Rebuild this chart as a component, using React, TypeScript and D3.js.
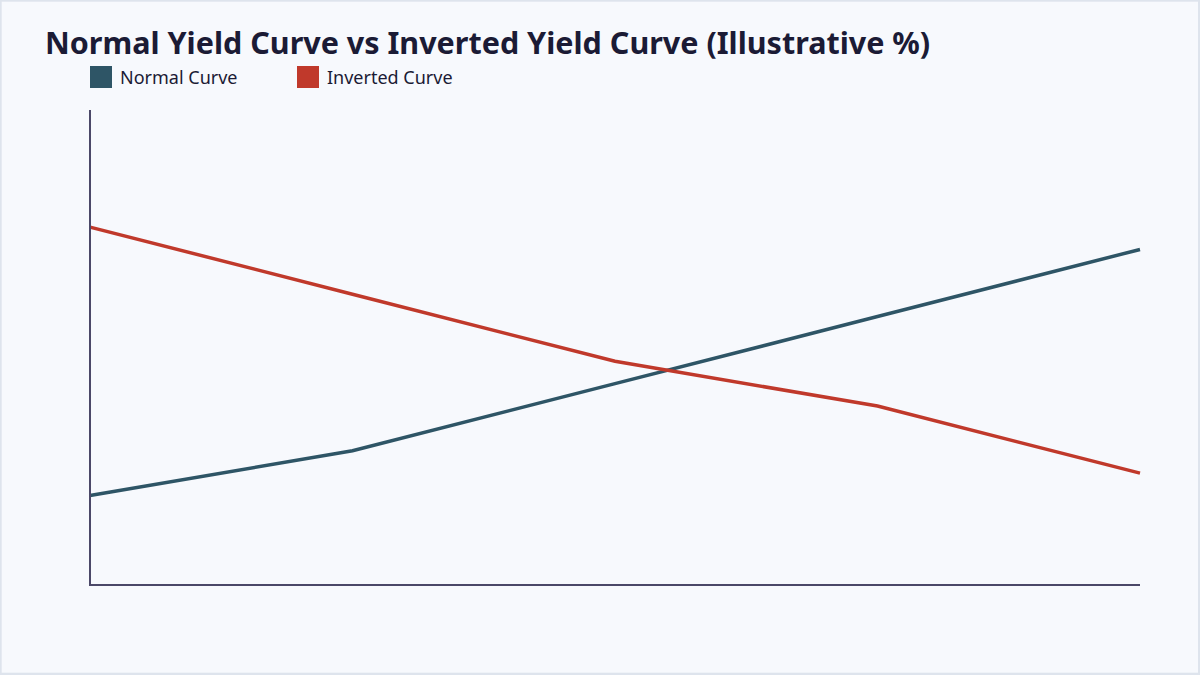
import * as d3 from "d3";
import { useEffect, useRef } from "react";

// maturities along the x axis (no labels are drawn in the reference)
const maturities = ["3M", "2Y", "5Y", "10Y", "30Y"];
const normalCurve = [1.2, 1.8, 2.7, 3.6, 4.5];
const invertedCurve = [4.8, 3.9, 3.0, 2.4, 1.5];
const seriesNames = ["Normal Curve", "Inverted Curve"];
const seriesColors = ["#2e5566", "#c0392b"];

const App = () => {
  const ref = useRef(null);

  useEffect(() => {
    var width = 1200;
    var height = 675;
    var margin = { top: 110, right: 60, bottom: 90, left: 90 };
    var font = "'Noto Sans', sans-serif";

    var svg = d3
      .select(ref.current)
      .append("svg")
      .attr("width", width)
      .attr("height", height)
      .style("display", "block");

    // card background
    svg.append("rect").attr("width", width).attr("height", height).attr("fill", "#dee4ed");
    svg
      .append("rect")
      .attr("x", 1.7)
      .attr("y", 1.7)
      .attr("width", width - 3.7)
      .attr("height", height - 4)
      .attr("fill", "#f7f9fd");

    svg
      .append("text")
      .attr("x", 45)
      .attr("y", 54)
      .attr("font-family", font)
      .attr("font-weight", 700)
      .attr("font-size", 30.5)
      .attr("fill", "#1b1b35")
      .text("Normal Yield Curve vs Inverted Yield Curve (Illustrative %)");

    // legend
    var legendX = [90, 297];
    seriesNames.forEach(function (name, i) {
      var lg = svg.append("g").attr("transform", "translate(" + legendX[i] + ",66)");
      lg.append("rect").attr("width", 22).attr("height", 22).attr("fill", seriesColors[i]);
      lg.append("text")
        .attr("x", 30)
        .attr("y", 17.5)
        .attr("font-family", font)
        .attr("font-size", 18)
        .attr("fill", "#1b1b35")
        .text(name);
    });

    var x = d3
      .scalePoint()
      .domain(maturities)
      .range([margin.left, width - margin.right]);

    var y = d3
      .scaleLinear()
      .domain([0, 6.37])
      .range([height - margin.bottom, margin.top]);

    var line = d3
      .line<number>()
      .x(function (d, i) {
        return x(maturities[i]) as number;
      })
      .y(function (d) {
        return y(d);
      });

    [normalCurve, invertedCurve].forEach(function (values, i) {
      svg
        .append("path")
        .datum(values)
        .attr("d", line)
        .attr("fill", "none")
        .attr("stroke", seriesColors[i])
        .attr("stroke-width", 3.5);
    });

    // axes without ticks
    svg
      .append("path")
      .attr(
        "d",
        "M" + margin.left + "," + margin.top + "V" + y(0) + "H" + (width - margin.right)
      )
      .attr("fill", "none")
      .attr("stroke", "#4b4868")
      .attr("stroke-width", 2);

    return function () {
      svg.remove();
    };
  }, []);

  return (
    <>
      <style>{"body{margin:0}"}</style>
      <div ref={ref} />
    </>
  );
};

export default App;
